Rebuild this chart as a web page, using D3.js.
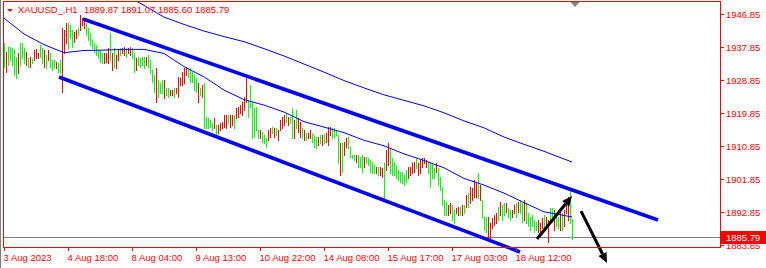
<!DOCTYPE html>
<html>
<head>
<meta charset="utf-8">
<script src="https://cdn.jsdelivr.net/npm/d3@7"></script>
<style>
  body { margin: 0; background: #fff; }
  svg { display: block; font-family: "Liberation Sans", Arial, sans-serif; }
</style>
</head>
<body>
<svg id="chart" width="766" height="268"></svg>
<script>
// --- data ---
var symbol = "XAUUSD_,H1";
var lastOhlc = [1889.87, 1891.07, 1885.60, 1885.79];

var timeLabels = ["3 Aug 2023", "4 Aug 18:00", "8 Aug 04:00", "9 Aug 13:00", "10 Aug 22:00",
  "14 Aug 08:00", "15 Aug 17:00", "17 Aug 03:00", "18 Aug 12:00"];
var timeLabelBars = [0, 32, 64, 96, 128, 160, 192, 224, 256];
var priceTicks = [1946.85, 1937.85, 1928.85, 1919.85, 1910.85, 1901.85, 1892.85, 1883.85];

var barHigh = [
  1938.9,1936.6,1937.9,1937.9,1937.5,1937.0,1935.2,1936.1,1938.9,1938.9,
  1937.5,1936.6,1934.8,1935.2,1934.8,1937.0,1937.2,1936.1,1938.4,1937.5,
  1937.0,1935.7,1937.0,1936.1,1934.3,1934.3,1933.8,1933.4,1934.3,1942.9,
  1942.5,1944.3,1944.3,1943.9,1942.5,1942.0,1942.5,1942.9,1946.6,1945.7,
  1945.2,1944.3,1942.9,1941.6,1939.8,1938.9,1938.4,1937.0,1937.0,1936.1,
  1936.1,1936.1,1937.5,1941.6,1936.1,1937.5,1935.7,1937.0,1937.5,1937.5,
  1937.9,1937.5,1937.5,1937.9,1937.5,1936.1,1934.8,1935.2,1934.8,1935.2,
  1935.2,1935.2,1935.7,1934.3,1931.6,1930.2,1932.0,1928.9,1927.9,1928.9,
  1928.9,1926.6,1926.6,1926.1,1926.1,1926.6,1926.6,1929.8,1929.3,1931.1,
  1932.0,1932.5,1932.0,1932.0,1931.1,1930.2,1929.3,1927.9,1926.6,1927.5,
  1927.9,1918.8,1918.4,1917.9,1917.0,1918.4,1916.6,1916.6,1917.0,1917.5,
  1919.3,1919.3,1919.3,1919.3,1919.3,1919.3,1921.1,1921.6,1922.0,1922.9,
  1924.3,1929.8,1923.4,1927.5,1922.9,1921.1,1921.6,1915.2,1915.2,1914.8,
  1913.9,1912.9,1915.2,1915.7,1916.1,1915.7,1915.7,1915.2,1917.9,1918.8,
  1919.3,1919.8,1918.8,1918.8,1921.1,1917.9,1920.7,1918.4,1917.5,1915.7,
  1915.2,1914.3,1914.3,1915.2,1914.3,1913.9,1913.4,1913.4,1913.9,1913.9,
  1913.9,1914.3,1916.1,1916.1,1915.7,1915.7,1915.2,1913.9,1911.6,1911.6,
  1912.0,1912.9,1913.4,1910.7,1908.4,1908.4,1908.4,1908.4,1907.9,1908.4,
  1907.9,1907.9,1907.5,1907.0,1906.6,1905.7,1905.2,1905.2,1905.2,1904.8,
  1906.1,1909.8,1911.6,1910.2,1907.5,1906.6,1905.7,1904.3,1903.8,1903.8,
  1902.9,1904.3,1905.2,1905.2,1906.1,1906.6,1907.5,1906.1,1907.0,1907.5,
  1907.5,1907.0,1906.6,1906.1,1906.1,1904.8,1906.1,1904.8,1902.5,1899.8,
  1896.1,1895.7,1894.8,1895.2,1894.8,1893.4,1893.9,1894.3,1894.3,1894.8,
  1894.8,1897.5,1897.9,1899.8,1899.3,1901.6,1901.1,1903.4,1900.2,1896.1,
  1891.6,1891.6,1891.6,1889.8,1891.1,1892.0,1892.5,1894.3,1895.7,1894.8,
  1895.2,1895.2,1893.9,1893.4,1893.4,1894.8,1895.2,1895.7,1896.1,1895.2,
  1896.1,1895.2,1892.5,1891.6,1892.0,1890.7,1890.2,1890.7,1889.8,1891.1,
  1892.0,1891.6,1890.7,1893.9,1893.9,1893.4,1892.5,1891.6,1893.4,1892.5,
  1893.4,1895.7,1897.0,1898.9,1891.07
];
var barLow = [
  1932.5,1931.1,1933.0,1934.3,1933.0,1930.2,1929.3,1930.7,1933.0,1934.8,
  1933.4,1933.0,1932.5,1932.5,1933.4,1934.3,1934.8,1934.8,1935.2,1933.4,
  1932.5,1932.0,1934.3,1932.5,1931.6,1932.0,1932.0,1931.1,1930.7,1925.7,
  1936.1,1938.9,1937.5,1940.2,1937.9,1939.3,1940.2,1941.1,1942.5,1943.9,
  1942.9,1941.1,1939.8,1938.4,1937.5,1936.6,1935.7,1934.8,1933.8,1933.4,
  1933.4,1933.8,1933.4,1934.3,1931.6,1932.5,1932.0,1934.3,1935.7,1936.1,
  1935.7,1935.2,1936.1,1935.7,1934.8,1931.1,1931.6,1933.0,1932.5,1933.0,
  1932.0,1933.0,1932.5,1930.7,1928.4,1925.7,1922.9,1924.3,1925.2,1925.2,
  1923.9,1924.8,1924.3,1924.8,1924.8,1924.3,1925.2,1924.3,1927.5,1927.5,
  1927.9,1930.2,1929.8,1928.4,1928.4,1926.1,1925.7,1922.9,1924.8,1924.3,
  1915.7,1915.7,1915.7,1916.1,1915.2,1915.7,1913.9,1914.3,1915.2,1915.7,
  1916.1,1915.7,1917.0,1916.1,1916.6,1915.7,1918.4,1918.8,1919.8,1919.3,
  1920.7,1922.9,1918.8,1921.6,1912.9,1913.4,1915.2,1912.9,1912.9,1912.0,
  1911.6,1910.7,1912.5,1913.4,1914.3,1913.4,1913.9,1912.5,1915.2,1915.7,
  1916.6,1917.5,1916.6,1917.0,1912.9,1912.9,1915.7,1914.8,1913.4,1912.9,
  1912.5,1912.5,1912.9,1912.9,1912.0,1910.7,1910.2,1911.1,1911.6,1911.1,
  1911.6,1912.0,1911.1,1913.9,1912.9,1913.4,1913.9,1906.1,1902.9,1903.8,
  1908.4,1910.7,1910.2,1907.9,1907.5,1907.0,1906.6,1905.2,1905.2,1903.8,
  1905.2,1906.1,1905.7,1903.8,1903.4,1903.4,1903.4,1902.9,1902.9,1902.5,
  1896.1,1904.3,1905.7,1903.4,1902.9,1902.9,1902.0,1901.6,1901.1,1900.7,
  1900.2,1901.1,1902.0,1902.9,1903.4,1903.8,1904.8,1902.9,1903.4,1905.2,
  1906.1,1905.2,1903.4,1899.8,1902.0,1902.0,1903.8,1900.2,1898.9,1894.8,
  1892.0,1892.0,1892.0,1892.5,1890.7,1889.8,1892.5,1892.0,1892.0,1892.0,
  1892.5,1894.3,1894.3,1895.2,1896.1,1897.0,1897.0,1896.6,1896.1,1891.6,
  1888.0,1887.5,1886.1,1885.2,1888.4,1889.3,1889.8,1890.7,1892.0,1890.7,
  1892.0,1892.9,1891.6,1890.7,1891.6,1892.5,1891.6,1892.9,1892.5,1890.2,
  1890.7,1889.8,1888.9,1888.0,1888.9,1887.5,1888.0,1887.5,1887.0,1888.4,
  1888.9,1888.4,1884.8,1889.8,1890.7,1888.0,1888.9,1888.4,1888.0,1888.0,
  1888.9,1892.5,1890.7,1889.8,1885.60
];
// r = bar closed up (red), g = bar closed down (green)
var barDirection = ("grgggggrgg" + "grgrgrrrgg" + "rgrgggrggr" + "rrgggrrgrr" + "rggggggggg" +
  "rrrgrgrrgr" + "rgrrggrggg" + "grggggrggg" + "rggrrgrrrr" + "rrgggggrgr" +
  "gggggrgrrr" + "rrgrrgrrrr" + "rrggggggrg" + "ggrrgrgrrr" + "rgrggrgrrg" +
  "rgrrgggrgr" + "grrrggggrg" + "rrggggrggg" + "rgggggrgrr" + "grrggggggg" +
  "ggrrrrgrrr" + "rrggggrggg" + "ggrrggrrgr" + "grgrrrrgrg" + "ggrrrrrgrg" +
  "grggrrgrgg" + "rggggggrrr" + "grrggrggrg" + "rrrgg").split("");

var fastMaBars = [0,10,20,30,40,50,60,70,80,90,100,110,120,130,140,150,160,170,180,190,200,210,220,230,240,250,260,270,280,284];
var fastMa = [1945.7,1941.4,1938.5,1936.3,1936.9,1937.0,1937.2,1937.2,1936.1,1932.5,1929.7,1926.1,1923.5,1922.0,1920.1,
  1917.5,1916.0,1914.5,1912.4,1910.9,1908.7,1906.9,1904.9,1902.0,1900.2,1898.0,1895.4,1892.9,1891.9,1891.5];
var slowMaBars = [64,70,80,90,100,110,120,130,140,150,160,170,180,190,200,210,220,230,240,250,260,270,280,284];
var slowMa = [1951.0,1949.2,1946.0,1944.0,1942.2,1940.7,1939.3,1937.4,1935.4,1933.2,1931.0,1928.7,1926.7,1924.8,
  1923.3,1921.8,1919.9,1917.7,1915.8,1913.3,1911.3,1909.4,1907.3,1906.5];

// channel lines and arrows as [bar, price] pairs
var channelTop = [[39.5, 1945.49], [327, 1890.68]];
var channelBottom = [[27.5, 1929.67], [258, 1881.95]];
var arrowUp = [[266.5, 1885.5], [284, 1897.2]];
var arrowDown = [[288.5, 1893.1], [301.5, 1878.95]];

// --- drawing ---
var svg = d3.select("#chart");
var red = "#ff0000";

var x = d3.scaleLinear().domain([0, 358]).range([4, 720]);
var y = d3.scaleLinear().domain([1883.85, 1946.85]).range([245, 14]);

svg.append("rect").attr("width", 766).attr("height", 268).attr("fill", "#fff");

svg.append("defs").append("clipPath").attr("id", "plot")
  .append("rect").attr("x", 4).attr("y", 2).attr("width", 716).attr("height", 245);

// current price line
var lastY = Math.floor(y(lastOhlc[3])) + 0.5;
svg.append("line").attr("x1", 4).attr("x2", 720).attr("y1", lastY).attr("y2", lastY)
  .attr("stroke", "#808080").attr("stroke-width", 1);

var plot = svg.append("g").attr("clip-path", "url(#plot)");

// bars (high-low)
plot.append("g").selectAll("rect").data(barHigh).join("rect")
  .attr("x", function(d, i) { return x(i); })
  .attr("y", function(d) { return Math.round(y(d)); })
  .attr("width", 1)
  .attr("height", function(d, i) { return Math.max(1, Math.round(y(barLow[i])) - Math.round(y(d)) + 1); })
  .attr("fill", function(d, i) { return barDirection[i] == "r" ? "#ff0000" : "#00ff00"; })
  .attr("shape-rendering", "crispEdges");

// moving averages
var maLine = d3.line().x(function(d) { return x(d[0]); }).y(function(d) { return y(d[1]); });
plot.append("path").datum(d3.zip(fastMaBars, fastMa)).attr("d", maLine)
  .attr("fill", "none").attr("stroke", "#0000ff").attr("stroke-width", 1);
plot.append("path").datum(d3.zip(slowMaBars, slowMa)).attr("d", maLine)
  .attr("fill", "none").attr("stroke", "#0000ff").attr("stroke-width", 1);

// channel
[channelTop, channelBottom].forEach(function(c) {
  svg.append("line")
    .attr("x1", x(c[0][0])).attr("y1", y(c[0][1]))
    .attr("x2", x(c[1][0])).attr("y2", y(c[1][1]))
    .attr("stroke", "#0000ff").attr("stroke-width", 3.6);
});

// arrows
[arrowUp, arrowDown].forEach(function(a) {
  var x1 = x(a[0][0]), y1 = y(a[0][1]), x2 = x(a[1][0]), y2 = y(a[1][1]);
  var ang = Math.atan2(y2 - y1, x2 - x1), len = 10, half = 4.5;
  var bx = x2 - len * Math.cos(ang), by = y2 - len * Math.sin(ang);
  svg.append("line").attr("x1", x1).attr("y1", y1).attr("x2", bx).attr("y2", by)
    .attr("stroke", "#000").attr("stroke-width", 3);
  svg.append("path")
    .attr("d", "M" + x2 + "," + y2 +
      "L" + (bx + half * Math.sin(ang)) + "," + (by - half * Math.cos(ang)) +
      "L" + (bx - half * Math.sin(ang)) + "," + (by + half * Math.cos(ang)) + "Z")
    .attr("fill", "#000");
});

// frame
svg.append("line").attr("x1", 0.5).attr("x2", 0.5).attr("y1", 0).attr("y2", 268).attr("stroke", "#808080");
svg.append("rect").attr("x", 3.5).attr("y", 1.5).attr("width", 717).attr("height", 246)
  .attr("fill", "none").attr("stroke", red).attr("stroke-width", 1);

// price axis
var yAxis = svg.append("g").attr("transform", "translate(720,0)")
  .call(d3.axisRight(y).tickValues(priceTicks).tickFormat(d3.format(".2f")).tickSize(4).tickSizeOuter(0));
yAxis.select(".domain").remove();
yAxis.selectAll("line").attr("stroke", red);
yAxis.selectAll("text").attr("fill", red).attr("font-size", 9.5).attr("font-family", null).attr("x", 6);

// time axis
var xAxis = svg.append("g").attr("transform", "translate(0,247)")
  .call(d3.axisBottom(x).tickValues(timeLabelBars)
    .tickFormat(function(d, i) { return timeLabels[i]; }).tickSize(4).tickSizeOuter(0));
xAxis.select(".domain").remove();
xAxis.selectAll("line").attr("stroke", red);
xAxis.selectAll("text").attr("fill", red).attr("font-size", 9.5).attr("font-family", null)
  .attr("text-anchor", "start").attr("x", -1);

// last price tag
var tagY = y(lastOhlc[3]);
svg.append("rect").attr("x", 721).attr("y", Math.round(tagY) - 7).attr("width", 45).attr("height", 13).attr("fill", red);
svg.append("text").attr("x", 726).attr("y", tagY + 3.5).attr("fill", "#fff").attr("font-size", 9.5)
  .text(d3.format(".2f")(lastOhlc[3]));

// title
svg.append("path").attr("d", "M7,9L13,9L10,12Z").attr("fill", red);
svg.append("text").attr("x", 18).attr("y", 13).attr("fill", red).attr("font-size", 9.5).text(symbol);
svg.append("text").attr("x", 84).attr("y", 13).attr("fill", red).attr("font-size", 9.5)
  .text(lastOhlc.map(d3.format(".2f")).join(" "));

// chart shift marker
svg.append("path").attr("d", "M" + (x(285.5) - 4.5) + ",2L" + (x(285.5) + 4.5) + ",2L" + x(285.5) + ",7Z")
  .attr("fill", "#7a828e");
</script>
</body>
</html>
